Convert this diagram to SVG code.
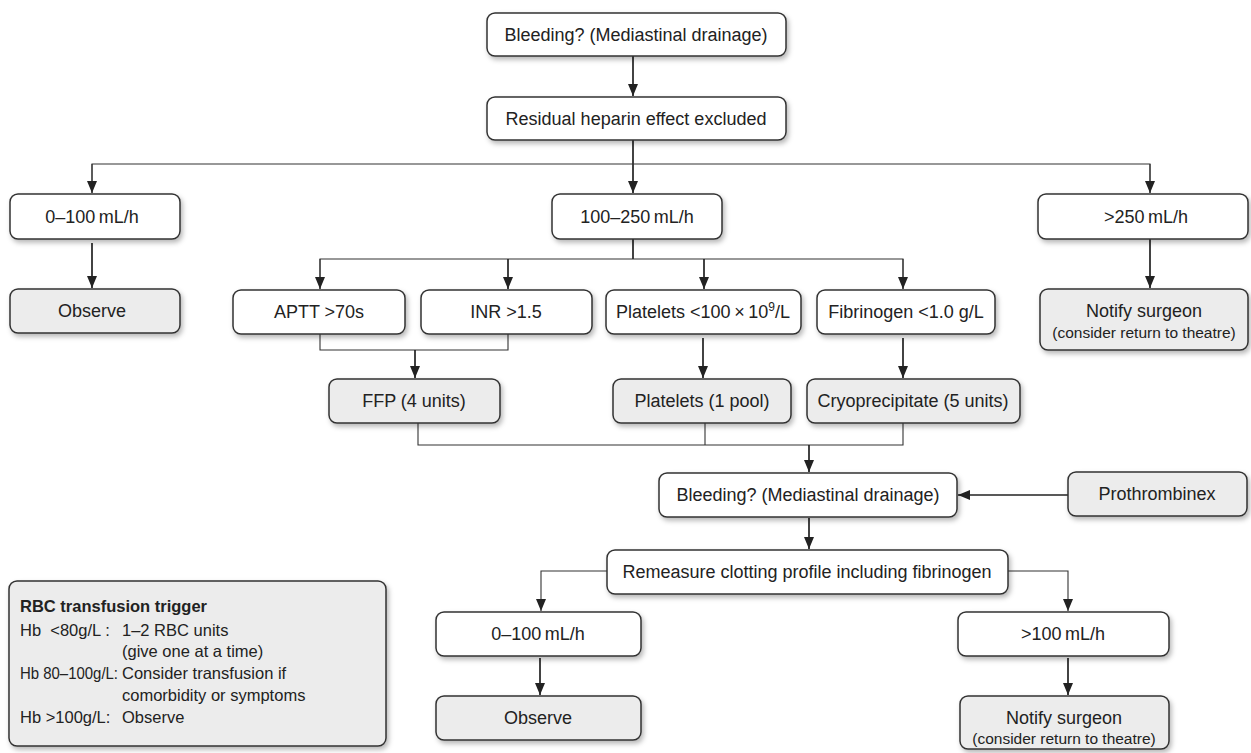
<svg xmlns="http://www.w3.org/2000/svg" width="1251" height="753" viewBox="0 0 1251 753">
<style>
.b{fill:#fff;stroke:#333;stroke-width:1.5}
.g{fill:#ececec;stroke:#333;stroke-width:1.5}
.t{font-family:"Liberation Sans",Arial,Helvetica,sans-serif;font-size:18px;fill:#222;text-anchor:middle}
.s{font-family:"Liberation Sans",Arial,Helvetica,sans-serif;font-size:15.5px;fill:#222;text-anchor:middle}
.r{font-family:"Liberation Sans",Arial,Helvetica,sans-serif;font-size:16.5px;fill:#222;white-space:pre}
.rb{font-weight:bold}
.c{fill:none;stroke:#222;stroke-width:1.7}
.c1{fill:none;stroke:#333;stroke-width:1.1}
</style>
<defs>
<filter id="sh" x="-10%" y="-20%" width="125%" height="160%">
<feDropShadow dx="2" dy="3" stdDeviation="2.5" flood-color="#000" flood-opacity="0.28"/>
</filter>
<marker id="ah" markerUnits="userSpaceOnUse" markerWidth="14" markerHeight="14" viewBox="0 0 14 14" refX="12" refY="7" orient="auto">
<path d="M0,2 L12,7 L0,12 Z" fill="#222"/>
</marker>
</defs>

<g id="connectors">
<path class="c" d="M633,56 V96" marker-end="url(#ah)"/>
<path class="c" d="M633,140 V193" marker-end="url(#ah)"/>
<path class="c1" d="M92,193 V164 H1150 V193" />
<path class="c1" d="M92,164 V193" marker-end="url(#ah)"/>
<path class="c1" d="M1150,164 V193" marker-end="url(#ah)"/>
<path class="c" d="M92,243 V288" marker-end="url(#ah)"/>
<path class="c" d="M1150,239 V288" marker-end="url(#ah)"/>
<path class="c" d="M633,239 V259"/>
<path class="c1" d="M320,289 V259 H903 V289"/>
<path class="c1" d="M320,259 V289" marker-end="url(#ah)"/>
<path class="c" d="M508,259 V289" marker-end="url(#ah)"/>
<path class="c" d="M704,259 V289" marker-end="url(#ah)"/>
<path class="c1" d="M903,259 V289" marker-end="url(#ah)"/>
<path class="c1" d="M320,334 V350 H508 V334"/>
<path class="c" d="M415,350 V378" marker-end="url(#ah)"/>
<path class="c" d="M703,338 V378" marker-end="url(#ah)"/>
<path class="c" d="M903,338 V378" marker-end="url(#ah)"/>
<path class="c1" d="M418,423 V445 H903 V423 M705,423 V445"/>
<path class="c" d="M809,445 V472" marker-end="url(#ah)"/>
<path class="c" d="M809,518 V549" marker-end="url(#ah)"/>
<path class="c" d="M1068,495 H958" marker-end="url(#ah)"/>
<path class="c1" d="M607,571 H541 V611" marker-end="url(#ah)"/>
<path class="c1" d="M1008,571 H1068 V611" marker-end="url(#ah)"/>
<path class="c" d="M540,658 V695" marker-end="url(#ah)"/>
<path class="c" d="M1068,658 V695" marker-end="url(#ah)"/>
</g>

<g id="n_bleed1"><rect class="b" filter="url(#sh)" x="487" y="13" width="299" height="43" rx="8"/><text class="t" x="636" y="41">Bleeding? (Mediastinal drainage)</text></g>
<g id="n_residual"><rect class="b" filter="url(#sh)" x="487" y="97" width="299" height="43" rx="8"/><text class="t" x="636" y="125">Residual heparin effect excluded</text></g>
<g id="n_0100a"><rect class="b" filter="url(#sh)" x="10" y="194" width="170" height="45" rx="8"/><text class="t" x="92" y="223">0–100&#8201;mL/h</text></g>
<g id="n_100250"><rect class="b" filter="url(#sh)" x="552" y="194" width="170" height="45" rx="8"/><text class="t" x="637" y="223">100–250&#8201;mL/h</text></g>
<g id="n_250"><rect class="b" filter="url(#sh)" x="1038" y="194" width="210" height="45" rx="8"/><text class="t" x="1146" y="223">&gt;250&#8201;mL/h</text></g>
<g id="n_observe1"><rect class="g" filter="url(#sh)" x="10" y="289" width="170" height="44" rx="8"/><text class="t" x="92" y="317">Observe</text></g>
<g id="n_aptt"><rect class="b" filter="url(#sh)" x="233" y="290" width="172" height="44" rx="8"/><text class="t" x="319" y="318">APTT &gt;70s</text></g>
<g id="n_inr"><rect class="b" filter="url(#sh)" x="421" y="290" width="171" height="44" rx="8"/><text class="t" x="506" y="318">INR &gt;1.5</text></g>
<g id="n_platelets"><rect class="b" filter="url(#sh)" x="606" y="290" width="195" height="44" rx="8"/><text class="t" x="703" y="318">Platelets &lt;100&#8201;×&#8201;10<tspan font-size="12" dy="-7">9</tspan><tspan dy="7">/L</tspan></text></g>
<g id="n_fibrinogen"><rect class="b" filter="url(#sh)" x="817" y="290" width="178" height="44" rx="8"/><text class="t" x="906" y="318">Fibrinogen &lt;1.0 g/L</text></g>
<g id="n_notify1"><rect class="g" filter="url(#sh)" x="1040" y="289" width="208" height="61" rx="8"/><text class="t" x="1144" y="317">Notify surgeon</text><text class="s" x="1144" y="338">(consider return to theatre)</text></g>
<g id="n_ffp"><rect class="g" filter="url(#sh)" x="329" y="379" width="171" height="44" rx="8"/><text class="t" x="414" y="407">FFP (4 units)</text></g>
<g id="n_pltpool"><rect class="g" filter="url(#sh)" x="613" y="379" width="178" height="44" rx="8"/><text class="t" x="702" y="407">Platelets (1 pool)</text></g>
<g id="n_cryo"><rect class="g" filter="url(#sh)" x="807" y="379" width="213" height="44" rx="8"/><text class="t" x="913" y="407">Cryoprecipitate (5 units)</text></g>
<g id="n_bleed2"><rect class="b" filter="url(#sh)" x="659" y="473" width="298" height="44" rx="8"/><text class="t" x="808" y="501">Bleeding? (Mediastinal drainage)</text></g>
<g id="n_prothrombinex"><rect class="g" filter="url(#sh)" x="1068" y="472" width="179" height="44" rx="8"/><text class="t" x="1157" y="500">Prothrombinex</text></g>
<g id="n_remeasure"><rect class="b" filter="url(#sh)" x="607" y="550" width="401" height="44" rx="8"/><text class="t" x="807" y="578">Remeasure clotting profile including fibrinogen</text></g>
<g id="n_0100b"><rect class="b" filter="url(#sh)" x="436" y="612" width="205" height="44" rx="8"/><text class="t" x="538" y="640">0–100&#8201;mL/h</text></g>
<g id="n_100"><rect class="b" filter="url(#sh)" x="958" y="612" width="211" height="44" rx="8"/><text class="t" x="1063" y="640">&gt;100&#8201;mL/h</text></g>
<g id="n_observe2"><rect class="g" filter="url(#sh)" x="436" y="696" width="205" height="44" rx="8"/><text class="t" x="538" y="724">Observe</text></g>
<g id="n_notify2"><rect class="g" filter="url(#sh)" x="960" y="696" width="209" height="53" rx="8"/><text class="t" x="1064" y="724">Notify surgeon</text><text class="s" x="1064" y="744">(consider return to theatre)</text></g>
<g id="n_rbc"><rect class="g" filter="url(#sh)" x="9" y="581" width="377" height="165" rx="8"/>
<text class="r rb" x="20" y="612">RBC transfusion trigger</text>
<text class="r" x="20" y="636">Hb  &lt;80g/L :</text><text class="r" x="122" y="636">1–2 RBC units</text>
<text class="r" x="122" y="657">(give one at a time)</text>
<text class="r" x="20" y="679" textLength="98" lengthAdjust="spacingAndGlyphs">Hb 80–100g/L:</text><text class="r" x="122" y="679">Consider transfusion if</text>
<text class="r" x="122" y="701">comorbidity or symptoms</text>
<text class="r" x="20" y="723">Hb &gt;100g/L:</text><text class="r" x="122" y="723">Observe</text>
</g>
</svg>
